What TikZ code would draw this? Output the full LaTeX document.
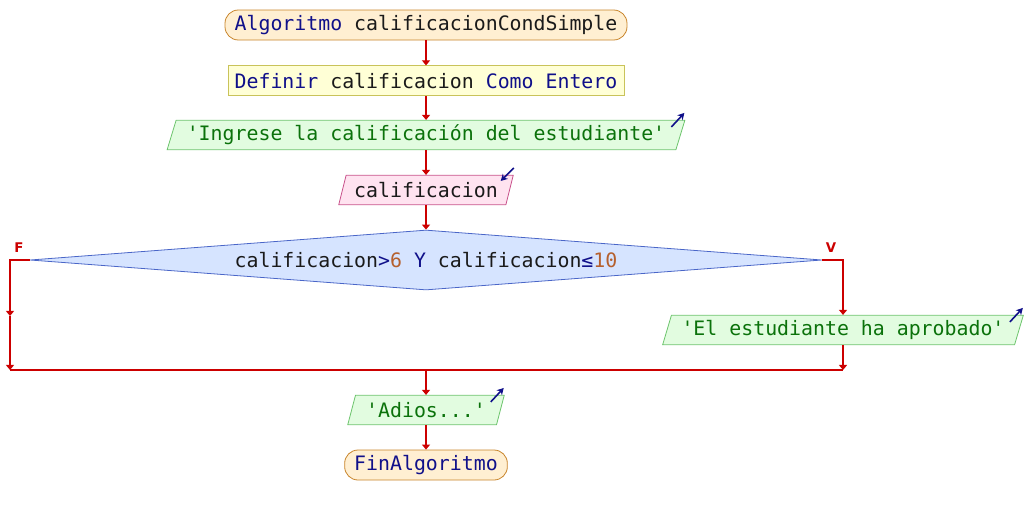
\documentclass[tikz,border=0pt]{standalone}
\usepackage{fontspec}
\setmonofont{DejaVu Sans Mono}
\setsansfont{DejaVu Sans}
\usetikzlibrary{
  arrows.meta,
  positioning,
  shapes.geometric
}
\definecolor{PsRed}{HTML}{CC0000}
\definecolor{PsKey}{HTML}{10108A}
\definecolor{PsText}{HTML}{1A1A1A}
\definecolor{PsString}{HTML}{0B720B}
\definecolor{PsNumber}{HTML}{B5602E}
\definecolor{PsTermLine}{HTML}{C8842A}
\definecolor{PsTermFill}{HTML}{FFEFD2}
\definecolor{PsDefLine}{HTML}{C9C35A}
\definecolor{PsDefFill}{HTML}{FFFFD6}
\definecolor{PsOutLine}{HTML}{6CC46C}
\definecolor{PsOutFill}{HTML}{E2FCE0}
\definecolor{PsInLine}{HTML}{C8508A}
\definecolor{PsInFill}{HTML}{FFE3F0}
\definecolor{PsCondLine}{HTML}{4A66C8}
\definecolor{PsCondFill}{HTML}{D6E4FF}
\tikzset{
  every node/.style = {font=\ttfamily\fontsize{14.9pt}{18pt}\selectfont, text=PsText},
  box base/.style = {
    line width=0.6pt,
    minimum height=22.5pt,
    inner sep=0pt,
    align=center
  },
  terminal/.style = {box base, draw=PsTermLine, fill=PsTermFill, rounded corners=10pt},
  define box/.style = {box base, draw=PsDefLine, fill=PsDefFill},
  io base/.style = {
    box base,
    trapezium,
    trapezium left angle=67,
    trapezium right angle=113,
    trapezium stretches=true,
    minimum height=22pt
  },
  output/.style = {io base, draw=PsOutLine, fill=PsOutFill},
  input/.style = {io base, draw=PsInLine, fill=PsInFill},
  decision/.style = {
    box base,
    diamond,
    aspect=13.2,
    draw=PsCondLine,
    fill=PsCondFill,
    minimum height=45pt
  },
  flow/.style = {-{Triangle[length=3.8pt,width=6pt]}, draw=PsRed, line width=1.3pt},
  flow line/.style = {draw=PsRed, line width=1.3pt},
  io icon/.style = {-{Stealth[length=5pt,width=5.5pt]}, draw=PsKey, line width=1.2pt},
  branch label/.style = {font=\sffamily\bfseries\fontsize{10pt}{11pt}\selectfont, text=PsRed, inner sep=0pt}
}
\newcommand{\kw}[1]{\textcolor{PsKey}{#1}}
\newcommand{\str}[1]{\textcolor{PsString}{#1}}
\newcommand{\num}[1]{\textcolor{PsNumber}{#1}}
\newcommand{\OutIcon}[1]{%
  \draw[io icon] ([shift={(-14,7)}]#1.top right corner) -- ++(13,-14);}
\newcommand{\InIcon}[1]{%
  \draw[io icon] ([shift={(0,-7)}]#1.top right corner) -- ++(-13,13);}

\begin{document}
\begin{tikzpicture}[x=0.75pt,y=-0.75pt,node distance=18.75pt]
  \useasboundingbox (0,0) rectangle (1026,515);

  \node[terminal, minimum width=301.5pt] (start) at (426,25) {\kw{Algoritmo} calificacionCondSimple};
  \node[define box, minimum width=297pt, below=of start] (defvar) {\kw{Definir} calificacion \kw{Como} \kw{Entero}};
  \node[output, minimum width=389pt] (outmsg) at (426,135) {\str{'Ingrese la calificación del estudiante'}};
  \node[input, minimum width=131pt] (incal) at (426,190) {calificacion};
  \node[decision, minimum width=594pt] (cond) at (426,260)
    {calificacion\kw{>}\num{6} \kw{Y} calificacion\kw{≤}\num{10}};
  \node[output, minimum width=271pt] (outok) at (843,330) {\str{'El estudiante ha aprobado'}};

  \coordinate (fmid) at (10,316);
  \coordinate (fjoin) at (10,370);
  \coordinate (vjoin) at (outok.south |- fjoin);
  \coordinate (join) at (cond.south |- fjoin);

  \node[output, minimum width=118pt] (outbye) at (426,410) {\str{'Adios...'}};
  \node[terminal, minimum width=122pt] (finish) at (426,465) {\kw{FinAlgoritmo}};

  \node[branch label] (flab) at (19,248) {F};
  \node[branch label] (vlab) at (831,248) {V};

  \draw[flow] (start) -- (defvar);
  \draw[flow] (defvar) -- (outmsg);
  \draw[flow] (outmsg) -- (incal);
  \draw[flow] (incal) -- (cond);
  \draw[flow] (cond.west) -| (fmid);
  \draw[flow] (fmid) -- (fjoin);
  \draw[flow] (cond.east) -| (outok.north);
  \draw[flow] (outok.south) -- (vjoin);
  \draw[flow line] (fjoin) -- (vjoin);
  \draw[flow] (join) -- (outbye);
  \draw[flow] (outbye) -- (finish);

  \OutIcon{outmsg}
  \InIcon{incal}
  \OutIcon{outok}
  \OutIcon{outbye}
\end{tikzpicture}
\end{document}
